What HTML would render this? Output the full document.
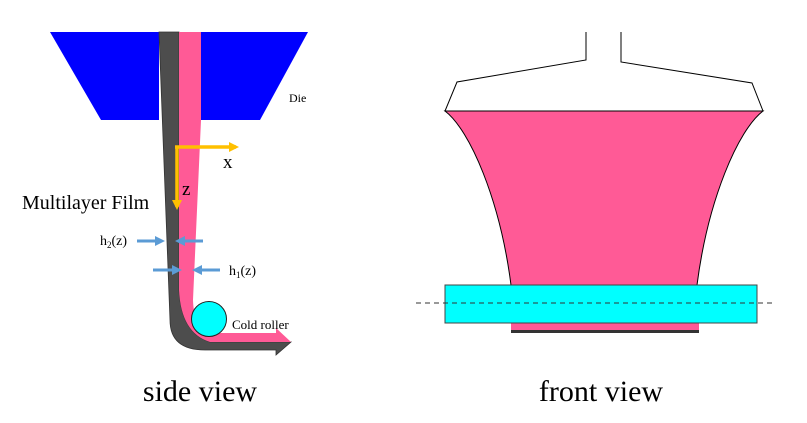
<!DOCTYPE html>
<html><head><meta charset="utf-8"><style>
html,body{margin:0;padding:0;background:#fff;}
svg{display:block;}
text{font-family:"Liberation Serif",serif;fill:#000;}
</style></head><body>
<svg width="807" height="423" viewBox="0 0 807 423" xmlns="http://www.w3.org/2000/svg">
<defs>
<marker id="ob" markerWidth="10" markerHeight="10" refX="7" refY="5" orient="auto" markerUnits="userSpaceOnUse"><path d="M0,0 L10,5 L0,10 Z" fill="#FFC000"/></marker>
<marker id="bb" markerWidth="10" markerHeight="10" refX="7" refY="5" orient="auto" markerUnits="userSpaceOnUse"><path d="M0,0 L10,5 L0,10 Z" fill="#5B9BD5"/></marker>
</defs>
<polygon points="50,32 159,32 159,120 101,120" fill="#0000FF"/>
<polygon points="201,32 308,32 260,120 201,120" fill="#0000FF"/>
<path d="M159,32 L179,32 L179,290 Q181,333 210,342 L291,342 L276,355 L276,350 L205,350 Q170,350 170,320 Z" fill="#4D4D4D" stroke="#333" stroke-width="0.8"/>
<path d="M179,32 L201,32 L201,120 L193,300 Q194,333 215,333 L276,333 L276,328 L291,342 L210,342 Q181,333 179,290 Z" fill="#FF5A96"/>
<circle cx="209" cy="319" r="17.5" fill="#00FFFF" stroke="#222" stroke-width="1"/>
<line x1="177" y1="147" x2="177" y2="207" stroke="#FFC000" stroke-width="3.5" marker-end="url(#ob)"/>
<line x1="175" y1="147" x2="236" y2="147" stroke="#FFC000" stroke-width="3.5" marker-end="url(#ob)"/>
<text x="223" y="168" font-size="19">x</text>
<text x="182" y="195" font-size="19">z</text>
<text x="22" y="209" font-size="20">Multilayer Film</text>
<text x="289" y="102" font-size="12">Die</text>
<text x="232" y="329" font-size="13">Cold roller</text>
<line x1="137" y1="241" x2="162" y2="241" stroke="#5B9BD5" stroke-width="3" marker-end="url(#bb)"/>
<line x1="203" y1="241" x2="178" y2="241" stroke="#5B9BD5" stroke-width="3" marker-end="url(#bb)"/>
<line x1="153" y1="270" x2="179" y2="270" stroke="#5B9BD5" stroke-width="3" marker-end="url(#bb)"/>
<line x1="220" y1="270" x2="195" y2="270" stroke="#5B9BD5" stroke-width="3" marker-end="url(#bb)"/>
<text x="100" y="245" font-size="14">h<tspan font-size="9" dy="3">2</tspan><tspan dy="-3">(z)</tspan></text>
<text x="229" y="275" font-size="14">h<tspan font-size="9" dy="3">1</tspan><tspan dy="-3">(z)</tspan></text>
<path d="M586,32 L586,60 L457,82 L445,111 L763,111 L752,83 L621,62 L621,32" fill="none" stroke="#000" stroke-width="1"/>
<path d="M445,111 L763,111 C738,130 708,200 697,285 L511,285 C500,200 470,130 445,111 Z" fill="#FF5A96" stroke="#000" stroke-width="1"/>
<rect x="511" y="323" width="188" height="7" fill="#FF5A96"/>
<rect x="511" y="330" width="188" height="3" fill="#333"/>
<rect x="445" y="285" width="312" height="38" fill="#00FFFF" stroke="#444" stroke-width="1"/>
<line x1="416" y1="303" x2="772" y2="303" stroke="#333" stroke-width="1" stroke-dasharray="5,4"/>
<text x="200" y="401" font-size="30" text-anchor="middle">side view</text>
<text x="601" y="401" font-size="30" text-anchor="middle">front view</text>
</svg>
</body></html>
